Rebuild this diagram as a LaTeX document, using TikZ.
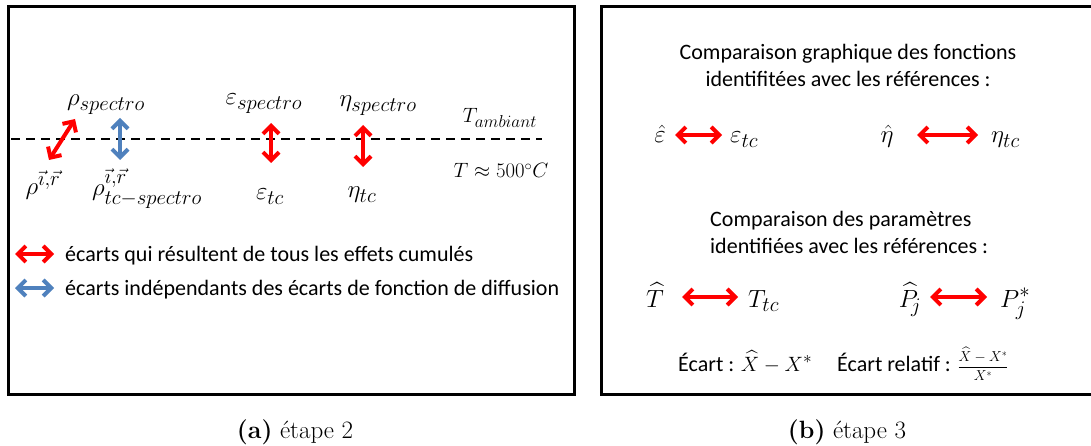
\documentclass[tikz,border=0pt]{standalone}
\usepackage{fontspec}
\usepackage{amsmath}
\newfontfamily\calib{Carlito}
\DeclareMathSizes{23}{23}{20}{15}
\DeclareMathSizes{22}{22}{19}{14}
\usetikzlibrary{arrows.meta}
\definecolor{myred}{RGB}{255,0,0}
\definecolor{myblue}{RGB}{79,129,189}
\tikzset{
  frame/.style={draw=black, line width=3pt},
  txt/.style={font=\calib\fontsize{22}{26}\selectfont, inner sep=0pt, anchor=base west},
  txtc/.style={txt, anchor=base},
  mth/.style={font=\fontsize{23}{27}\selectfont, inner sep=0pt, anchor=base},
  mthl/.style={mth, anchor=base west},
  dbl/.style={line width=4pt, {Straight Barb[length=8pt,width=16pt]}-{Straight Barb[length=8pt,width=16pt]}},
  redarr/.style={dbl, draw=myred},
  bluearr/.style={dbl, draw=myblue},
  captxt/.style={font=\fontsize{25}{30}\selectfont, inner sep=0pt, anchor=base},
  dashline/.style={draw=black, line width=2.5pt, dash pattern=on 9pt off 6pt}
}
\begin{document}
\begin{tikzpicture}[x=1pt,y=-1pt]
\clip (0,0) rectangle (1091,446);
\fill[white] (0,0) rectangle (1091,446);
% frames
\draw[frame] (8.5,6.5) rectangle (574,394);
\draw[frame] (601.5,6.5) rectangle (1100,394);

% ---- panel (a)
\coordinate (dl) at (11,139);
\coordinate (dr) at (542,139);
\draw[dashline] (dl) -- (dr);

\node[mth] (rhos) at (106,106) {$\rho_{spectro}$};
\node[mth] (epss) at (264,105) {$\varepsilon_{spectro}$};
\node[mth] (etas) at (378,107) {$\eta_{spectro}$};
\node[mth, font=\fontsize{22}{26}\selectfont] (tamb) at (500,123) {$T_{ambiant}$};
\node[mth, font=\fontsize{20}{24}\selectfont] (t500) at (501,178) {$T \approx 500{}^{\circ}C$};
\node[mth] (rhoir) at (43,195) {$\rho^{\vec{\imath},\vec{r}}$};
\node[mth] (rhotc) at (147,196) {$\rho^{\vec{\imath},\vec{r}}_{tc-spectro}$};
\node[mth] (epstc) at (270,200) {$\varepsilon_{tc}$};
\node[mth] (etatc) at (362,198) {$\eta_{tc}$};

\coordinate (a1s) at (49,160);
\coordinate (a1e) at (75,119);
\draw[redarr] (a1s) -- (a1e);
\coordinate (a2s) at (120,118);
\coordinate (a2e) at (120,160);
\draw[bluearr] (a2s) -- (a2e);
\coordinate (a3s) at (271,123);
\coordinate (a3e) at (271,163);
\draw[redarr] (a3s) -- (a3e);
\coordinate (a4s) at (363,125);
\coordinate (a4e) at (363,167);
\draw[redarr] (a4s) -- (a4e);

% legend
\coordinate (l1s) at (15,254);
\coordinate (l1e) at (54,254);
\draw[redarr] (l1s) -- (l1e);
\node[txt] (leg1) at (65,261) {écarts qui résultent de tous les effets cumulés};
\coordinate (l2s) at (15,288);
\coordinate (l2e) at (54,288);
\draw[bluearr] (l2s) -- (l2e);
\node[txt] (leg2) at (65,295) {écarts indépendants des écarts de fonction de diffusion};

% ---- panel (b)
\node[txtc] (h1a) at (848,60) {Comparaison graphique des fonctions};
\node[txtc] (h1b) at (848,87) {identifitées avec les références :};

\node[mth] (epsh) at (660,143) {$\hat{\varepsilon}$};
\node[mthl] (epsr) at (730,143) {$\varepsilon_{tc}$};
\coordinate (b1s) at (675,135);
\coordinate (b1e) at (722,135);
\draw[redarr] (b1s) -- (b1e);

\node[mth] (etah) at (887,143) {$\hat{\eta}$};
\node[mthl] (etar) at (991,143) {$\eta_{tc}$};
\coordinate (b2s) at (917,135);
\coordinate (b2e) at (978,135);
\draw[redarr] (b2s) -- (b2e);

\node[txt] (h2a) at (710,226) {Comparaison des paramètres};
\node[txt] (h2b) at (710,253) {identifiées avec les références :};

\node[mth] (th) at (655,307) {$\widehat{T}$};
\node[mthl] (ttc) at (748,307) {$T_{tc}$};
\coordinate (b3s) at (682,297);
\coordinate (b3e) at (738,297);
\draw[redarr] (b3s) -- (b3e);

\node[mth] (ph) at (910,307) {$\widehat{P}_{\!j}$};
\node[mthl] (pstar) at (1000,307) {$P_j^{*}$};
\coordinate (b4s) at (930,297);
\coordinate (b4e) at (987,297);
\draw[redarr] (b4s) -- (b4e);

\node[txt] (ec1) at (678,371) {Écart : \fontsize{22}{26}\selectfont$\widehat{X}-X^{*}$};
\node[txt] (ec2) at (837,371) {Écart relatif : \fontsize{14}{16}\selectfont$\dfrac{\widehat{X}-X^{*}}{X^{*}}$};

% captions
\node[captxt] (capa) at (295,438) {\textbf{(a)} étape 2};
\node[captxt] (capb) at (847,438) {\textbf{(b)} étape 3};
\end{tikzpicture}
\end{document}
